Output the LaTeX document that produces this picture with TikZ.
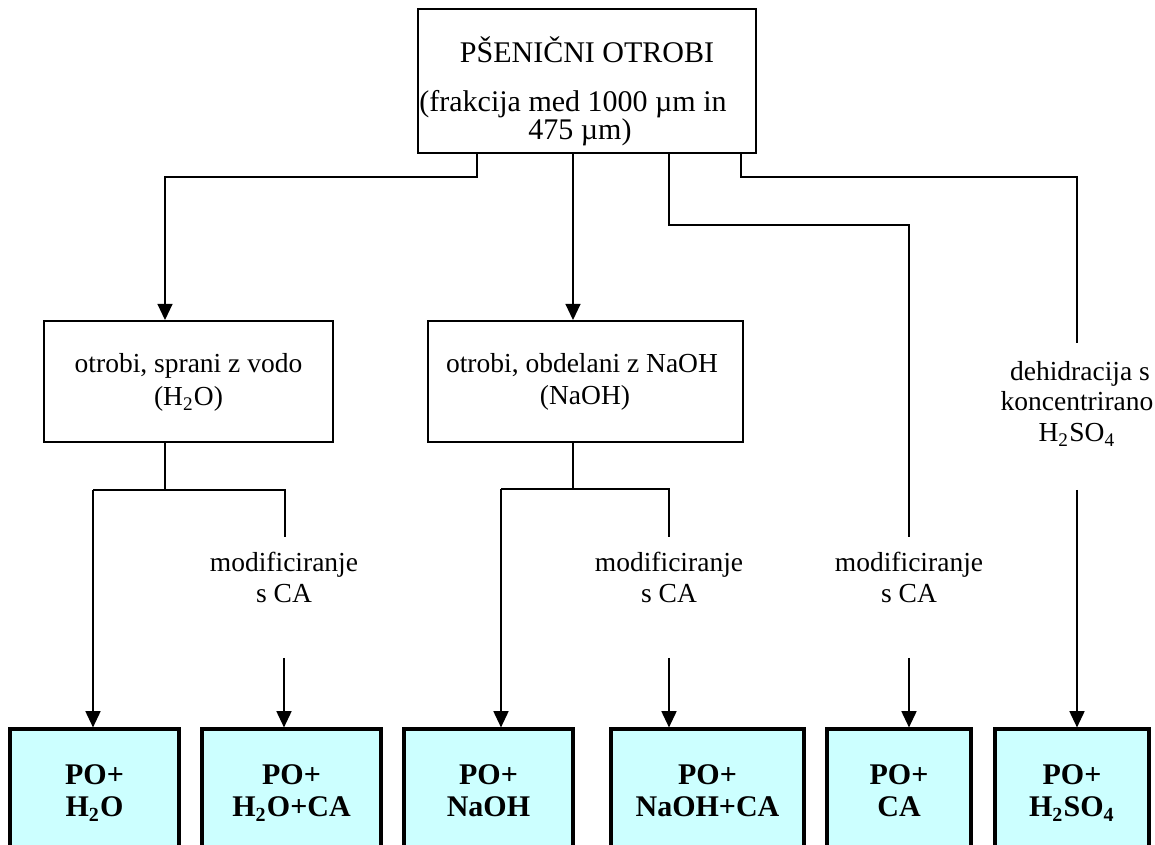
\documentclass[tikz,border=0pt]{standalone}
\usepackage{fontspec}
\setmainfont{Liberation Serif}
\usetikzlibrary{arrows.meta}
\definecolor{boxcyan}{HTML}{CCFFFF}
\begin{document}
\begin{tikzpicture}[x=0.4pt,y=-0.4pt,
  wire/.style={draw, line width=0.65pt},
  arrw/.style={wire, -{Triangle[width=6pt,length=6.5pt]}},
  wbox/.style={draw, line width=0.75pt, inner sep=0pt},
  rbox/.style={draw, line width=1.25pt, fill=boxcyan, inner sep=0pt, minimum height=60.4pt},
  txt/.style={anchor=base, inner sep=0pt, font=\fontsize{11}{13}\selectfont},
  ttl/.style={anchor=base, inner sep=0pt, font=\fontsize{12}{14}\selectfont},
  btxt/.style={anchor=base, inner sep=0pt, font=\fontsize{12}{14}\selectfont\bfseries}]
\useasboundingbox (0,0) rectangle (1155,845);
\clip (0,0) rectangle (1155,845);

% boxes
\node[wbox, minimum width=135.2pt, minimum height=57.6pt] (top) at (587,81) {};
\node[wbox, minimum width=115.6pt, minimum height=48.4pt] (lbox) at (188.5,381.5) {};
\node[wbox, minimum width=126pt, minimum height=48.4pt] (mbox) at (585.5,381.5) {};

\node[rbox, minimum width=67.6pt] (b1) at (94.5,804.5) {};
\node[rbox, minimum width=71.6pt] (b2) at (291.5,804.5) {};
\node[rbox, minimum width=67.6pt] (b3) at (488.5,804.5) {};
\node[rbox, minimum width=77.2pt] (b4) at (707.5,804.5) {};
\node[rbox, minimum width=57.6pt] (b5) at (899,804.5) {};
\node[rbox, minimum width=61.6pt] (b6) at (1072,804.5) {};

% texts
\node[ttl] (t1) at (587,63) {PŠENIČNI OTROBI};
\node[ttl] (t2) at (573,112) {(frakcija med 1000 µm in};
\node[ttl] (t3) at (580,140) {475 µm)};

\node[txt] (l1) at (188.5,373) {otrobi, sprani z vodo};
\node[txt] (l2) at (188.5,406) {(H\textsubscript{2}O)};
\node[txt] (n1) at (582,373) {otrobi, obdelani z NaOH};
\node[txt] (n2) at (585,405) {(NaOH)};

\node[txt] (ma1) at (284,572) {modificiranje};
\node[txt] (mb1) at (284,603) {s CA};
\node[txt] (ma2) at (669,572) {modificiranje};
\node[txt] (mb2) at (669,603) {s CA};
\node[txt] (ma3) at (909,572) {modificiranje};
\node[txt] (mb3) at (909,603) {s CA};

\node[txt] (d1) at (1080,381) {dehidracija s};
\node[txt] (d2) at (1077,411) {koncentrirano};
\node[txt] (d3) at (1077,442) {H\textsubscript{2}SO\textsubscript{4}};

\node[btxt] (p1a) at (94.5,784) {PO+};
\node[btxt] (p1b) at (94.5,817) {H\textsubscript{2}O};
\node[btxt] (p2a) at (291.5,784) {PO+};
\node[btxt] (p2b) at (291.5,817) {H\textsubscript{2}O+CA};
\node[btxt] (p3a) at (488.5,784) {PO+};
\node[btxt] (p3b) at (488.5,817) {NaOH};
\node[btxt] (p4a) at (707.5,784) {PO+};
\node[btxt] (p4b) at (707.5,817) {NaOH+CA};
\node[btxt] (p5a) at (899,784) {PO+};
\node[btxt] (p5b) at (899,817) {CA};
\node[btxt] (p6a) at (1072,784) {PO+};
\node[btxt] (p6b) at (1072,817) {H\textsubscript{2}SO\textsubscript{4}};

% junction coordinates
\coordinate (xa) at (477,0);
\coordinate (xb) at (573,0);
\coordinate (xc) at (669,0);
\coordinate (xd) at (741,0);
\coordinate (ja) at (165,177);
\coordinate (jc) at (909,225);
\coordinate (jd) at (1077,177);
\coordinate (ea) at (909,537);
\coordinate (ed) at (1077,343);
\coordinate (sd) at (1077,490);
\coordinate (sm3) at (909,658);

\coordinate (lh1) at (93,490);
\coordinate (lh2) at (285,490);
\coordinate (le) at (285,537);
\coordinate (ls) at (284,658);
\coordinate (mh1) at (501,489);
\coordinate (mh2) at (669,489);
\coordinate (me) at (669,537);
\coordinate (ms) at (669,658);

% connectors from top box
\draw[arrw] (top.south -| xa) |- (ja) -- (ja |- lbox.north);
\draw[arrw] (top.south -| xb) -- (xb |- mbox.north);
\draw[wire] (top.south -| xc) |- (jc) -- (ea);
\draw[wire] (top.south -| xd) |- (jd) -- (ed);

% left branch
\draw[wire] (lbox.south -| ja) -- (ja |- lh1);
\draw[wire] (lh1) -- (lh2) -- (le);
\draw[arrw] (lh1) -- (lh1 |- b1.north);
\draw[arrw] (ls) -- (ls |- b2.north);

% middle branch
\draw[wire] (mbox.south -| xb) -- (xb |- mh1);
\draw[wire] (mh1) -- (mh2) -- (me);
\draw[arrw] (mh1) -- (mh1 |- b3.north);
\draw[arrw] (ms) -- (ms |- b4.north);

% right branches
\draw[arrw] (sm3) -- (sm3 |- b5.north);
\draw[arrw] (sd) -- (sd |- b6.north);
\end{tikzpicture}
\end{document}
